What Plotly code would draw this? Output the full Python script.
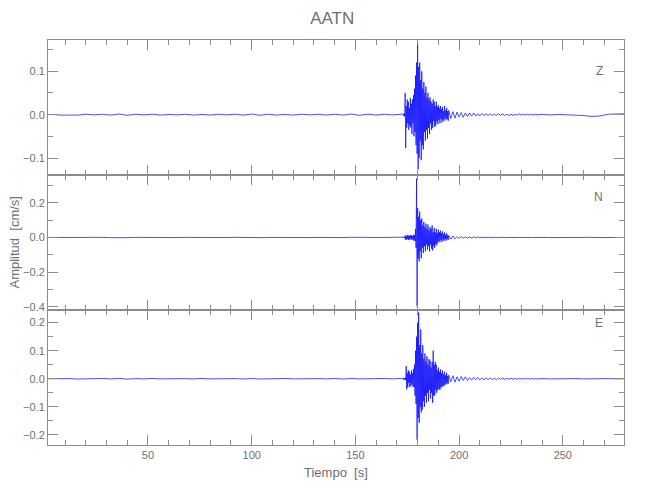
import plotly.graph_objects as go
from plotly.subplots import make_subplots

# ---------------- data ----------------
TITLE = "AATN"
COMPONENTS = ["Z", "N", "E"]
X_TICKS = [50, 100, 150, 200, 250]

# sampling of each segment: (start time [s], step [s])
NOISE_T0, NOISE_DT = 0.0, 4.0
EVENT_T0, EVENT_DT = 173.0, 0.25
TAIL_T0, TAIL_DT = 195.0, 1.0
LATE_T0, LATE_DT = 240.0, 4.0

# ---- Z component [cm/s]
z_noise = [0.0, 0.0005, -0.001, -0.0015, -0.001, 0.001, -0.0005, 0.001, -0.001, 0.0015,
           -0.0015, 0.001, -0.0005, 0.001, -0.001, 0.0005, -0.0005, 0.001, -0.001, 0.0005,
           -0.001, 0.001, -0.0005, 0.001, -0.001, 0.0015, -0.0015, 0.001, -0.001, 0.0005,
           -0.001, 0.001, -0.0005, 0.001, -0.001, 0.001, -0.001, 0.0015, -0.0015, 0.001,
           -0.001, 0.001, -0.0005, 0.001]
z_event = [0.002, -0.003, 0.002, -0.004, 0.05, -0.077, 0.02, -0.03,
           0.035, -0.02, 0.03, -0.035, 0.015, -0.025, 0.038, -0.03,
           0.025, -0.045, 0.035, -0.02, 0.045, -0.05, 0.06, -0.04,
           0.09, -0.07, 0.12, -0.09, 0.165, -0.126, 0.11, -0.1,
           0.12, -0.06, 0.08, -0.105, 0.1, -0.07, 0.06, -0.08,
           0.075, -0.04, 0.05, -0.06, 0.065, -0.035, 0.04, -0.055,
           0.05, -0.03, 0.035, -0.045, 0.04, -0.02, 0.03, -0.035,
           0.025, -0.03, 0.035, -0.015, 0.03, -0.028, 0.02, -0.025,
           0.03, -0.015, 0.018, -0.022, 0.022, -0.012, 0.015, -0.02,
           0.02, -0.01, 0.012, -0.018, 0.018, -0.012, 0.008, -0.015,
           0.02, -0.008, 0.01, -0.012, 0.015, -0.01, 0.008, -0.014]
z_tail = [0.01, -0.009, 0.007, -0.008, 0.006, -0.005, 0.005, -0.006, 0.004, -0.004,
          0.004, -0.003, 0.004, -0.003, 0.002, -0.003, 0.003, -0.002, 0.002, -0.002,
          0.002, -0.002, 0.001, -0.002, 0.002, -0.001, 0.002, -0.002, 0.001, -0.002,
          0.001, -0.002, 0.001, -0.001, 0.002, -0.001, 0.001, -0.001, 0.001, -0.001,
          0.001, -0.001, 0.001, -0.001, 0.001]
z_late = [0.0005, -0.0005, 0.0005, -0.0005, 0.0, -0.002, -0.004, -0.003, 0.001, 0.002, 0.002]

# ---- N component [cm/s]
n_noise = [0.0, 0.0005, -0.0005, 0.0005, -0.0005, 0.001, -0.0005, 0.0005, -0.001, 0.001,
           -0.001, 0.0005, -0.0005, 0.0005, -0.0005, 0.0005, -0.0005, 0.0005, -0.0005, 0.0005,
           -0.001, 0.0005, -0.0005, 0.001, -0.0005, 0.001, -0.001, 0.0005, -0.0005, 0.0005,
           -0.0005, 0.0005, -0.0005, 0.0005, -0.001, 0.0005, -0.0005, 0.001, -0.001, 0.0005,
           -0.0005, 0.0005, -0.0005, 0.001]
n_event = [0.002, -0.003, 0.003, -0.004, 0.012, -0.014, 0.008, -0.012,
           0.015, -0.01, 0.012, -0.015, 0.01, -0.012, 0.014, -0.008,
           0.012, -0.014, 0.009, -0.012, 0.016, -0.018, 0.012, -0.02,
           0.05, -0.06, 0.34, -0.396, 0.17, -0.12, 0.12, -0.137,
           0.15, -0.08, 0.1, -0.12, 0.11, -0.06, 0.07, -0.09,
           0.09, -0.05, 0.06, -0.08, 0.08, -0.04, 0.05, -0.07,
           0.075, -0.05, 0.04, -0.08, 0.06, -0.04, 0.05, -0.065,
           0.07, -0.075, 0.03, -0.05, 0.055, -0.06, 0.03, -0.04,
           0.05, -0.045, 0.025, -0.03, 0.045, -0.02, 0.03, -0.028,
           0.04, -0.015, 0.025, -0.025, 0.035, -0.012, 0.02, -0.02,
           0.03, -0.01, 0.015, -0.018, 0.025, -0.01, 0.012, -0.015]
n_tail = [0.012, -0.009, 0.009, -0.008, 0.005, -0.006, 0.005, -0.004, 0.004, -0.004,
          0.003, -0.003, 0.003, -0.002, 0.003, -0.002, 0.0015, -0.002, 0.0015, -0.001,
          0.0015, -0.0015, 0.001, -0.001, 0.001, -0.001, 0.001, -0.001, 0.001, -0.001,
          0.001, -0.001, 0.001, -0.0005, 0.0005, -0.0005, 0.0005, -0.0005, 0.0005, -0.0005,
          0.0005, -0.0005, 0.0005, -0.0005, 0.0005]
n_late = [0.0005, -0.0005, 0.0005, -0.0005, 0.0005, -0.0005, 0.0005, -0.0005, 0.0005, -0.0005, 0.0]

# ---- E component [cm/s]
e_noise = [0.0, 0.0005, -0.0005, 0.0005, -0.001, 0.0005, -0.0005, 0.001, -0.0005, 0.0015,
           -0.0015, 0.0005, -0.0005, 0.001, -0.0005, 0.0005, -0.001, 0.0005, -0.0005, 0.001,
           -0.0005, 0.0005, -0.001, 0.0005, -0.001, 0.001, -0.001, 0.0005, -0.0005, 0.001,
           -0.0005, 0.0005, -0.001, 0.0005, -0.0005, 0.001, -0.001, 0.001, -0.0005, 0.0005,
           -0.001, 0.001, -0.0005, 0.001]
e_event = [0.002, -0.003, 0.003, -0.003, 0.004, -0.005, 0.045, -0.038,
           0.02, -0.03, 0.03, -0.015, 0.025, -0.03, 0.015, -0.025,
           0.03, -0.02, 0.02, -0.028, 0.035, -0.03, 0.05, -0.06,
           0.1, -0.09, 0.15, -0.217, 0.2, -0.14, 0.236, -0.157,
           0.12, -0.1, 0.176, -0.12, 0.09, -0.11, 0.12, -0.08,
           0.07, -0.1, 0.09, -0.06, 0.06, -0.085, 0.08, -0.05,
           0.05, -0.08, 0.07, -0.04, 0.065, -0.07, 0.04, -0.05,
           0.06, -0.086, 0.1, -0.06, 0.05, -0.06, 0.06, -0.04,
           0.05, -0.05, 0.03, -0.04, 0.04, -0.035, 0.025, -0.04,
           0.033, -0.03, 0.02, -0.03, 0.03, -0.025, 0.015, -0.025,
           0.025, -0.02, 0.012, -0.02, 0.021, -0.016, 0.01, -0.018]
e_tail = [0.013, -0.011, 0.011, -0.012, 0.007, -0.009, 0.008, -0.006, 0.007, -0.006,
          0.004, -0.005, 0.005, -0.003, 0.004, -0.004, 0.003, -0.004, 0.004, -0.003,
          0.003, -0.003, 0.002, -0.003, 0.003, -0.002, 0.002, -0.002, 0.0015, -0.002,
          0.002, -0.002, 0.001, -0.002, 0.002, -0.001, 0.001, -0.001, 0.001, -0.001,
          0.001, -0.001, 0.001, -0.001, 0.001]
e_late = [0.0005, -0.0005, 0.0005, -0.0005, 0.0005, -0.0005, 0.0005, -0.0005, 0.0005, -0.0005, 0.0]

SERIES = {
    "Z": [z_noise, z_event, z_tail, z_late],
    "N": [n_noise, n_event, n_tail, n_late],
    "E": [e_noise, e_event, e_tail, e_late],
}
Y_RANGES = {"Z": [-0.139, 0.172], "N": [-0.419, 0.361], "E": [-0.236, 0.245]}
Y_DTICK = {"Z": 0.1, "N": 0.2, "E": 0.1}
X_RANGE = [1.8, 279.5]

SEGMENTS = [(NOISE_T0, NOISE_DT), (EVENT_T0, EVENT_DT), (TAIL_T0, TAIL_DT), (LATE_T0, LATE_DT)]


def build_trace(parts):
    xs, ys = [], []
    for (t0, dt), vals in zip(SEGMENTS, parts):
        for i, v in enumerate(vals):
            xs.append(t0 + i * dt)
            ys.append(v)
    return xs, ys


# ---------------- figure ----------------
GREY = "#8c8c8c"
TXT = "#707070"
FONT = "Liberation Sans, Arial, sans-serif"

fig = make_subplots(rows=3, cols=1, shared_xaxes=True, vertical_spacing=0)

for r, comp in enumerate(COMPONENTS, start=1):
    xs, ys = build_trace(SERIES[comp])
    fig.add_trace(go.Scatter(x=xs, y=ys, mode="lines",
                             line=dict(color="#0000ff", width=0.7),
                             showlegend=False, hoverinfo="skip"), row=r, col=1)
    fig.update_yaxes(range=Y_RANGES[comp], dtick=Y_DTICK[comp], tickformat=".1f",
                     ticks="inside", ticklen=10, tickcolor=GREY, showline=True,
                     linecolor=GREY, linewidth=1, mirror="allticks", showgrid=False,
                     zeroline=False, automargin=False,
                     tickfont=dict(family=FONT, size=11, color=TXT),
                     minor=dict(ticks="inside", ticklen=5, dtick=Y_DTICK[comp] / 2,
                                tickcolor=GREY, showgrid=False),
                     row=r, col=1)
    fig.update_xaxes(range=X_RANGE, tickvals=X_TICKS, ticks="inside", ticklen=10,
                     tickcolor=GREY, showline=True, linecolor=GREY, linewidth=1,
                     mirror="allticks", showgrid=False, zeroline=False, automargin=False,
                     tickfont=dict(family=FONT, size=11, color=TXT),
                     minor=dict(ticks="inside", ticklen=5, dtick=10, tick0=0,
                                tickcolor=GREY, showgrid=False),
                     showticklabels=(r == 3), row=r, col=1)

label_y = {"Z": 0.946, "N": 0.612, "E": 0.279}
for comp in COMPONENTS:
    fig.add_annotation(text=comp, x=0.967, y=label_y[comp], xref="paper", yref="paper",
                       showarrow=False, font=dict(family=FONT, size=12, color=TXT))

fig.add_annotation(text="Tiempo  [s]", x=0.5, y=-0.045, xref="paper", yref="paper",
                   showarrow=False, yanchor="top",
                   font=dict(family=FONT, size=13, color=TXT))
fig.add_annotation(text="Amplitud  [cm/s]", x=-0.059, y=0.5, xref="paper", yref="paper",
                   showarrow=False, textangle=-90, xanchor="center",
                   font=dict(family=FONT, size=13, color=TXT))

# the page adds an 8 px body margin, so the figure is drawn 8 px smaller
fig.update_layout(
    width=642, height=492,
    margin=dict(l=40, r=26, t=32, b=55, autoexpand=False),
    paper_bgcolor="white", plot_bgcolor="white",
    title=dict(text=TITLE, x=0.505, xanchor="center", y=0.98, yanchor="middle",
               font=dict(family=FONT, size=17, color=TXT)),
)

fig.write_html("out.html")
